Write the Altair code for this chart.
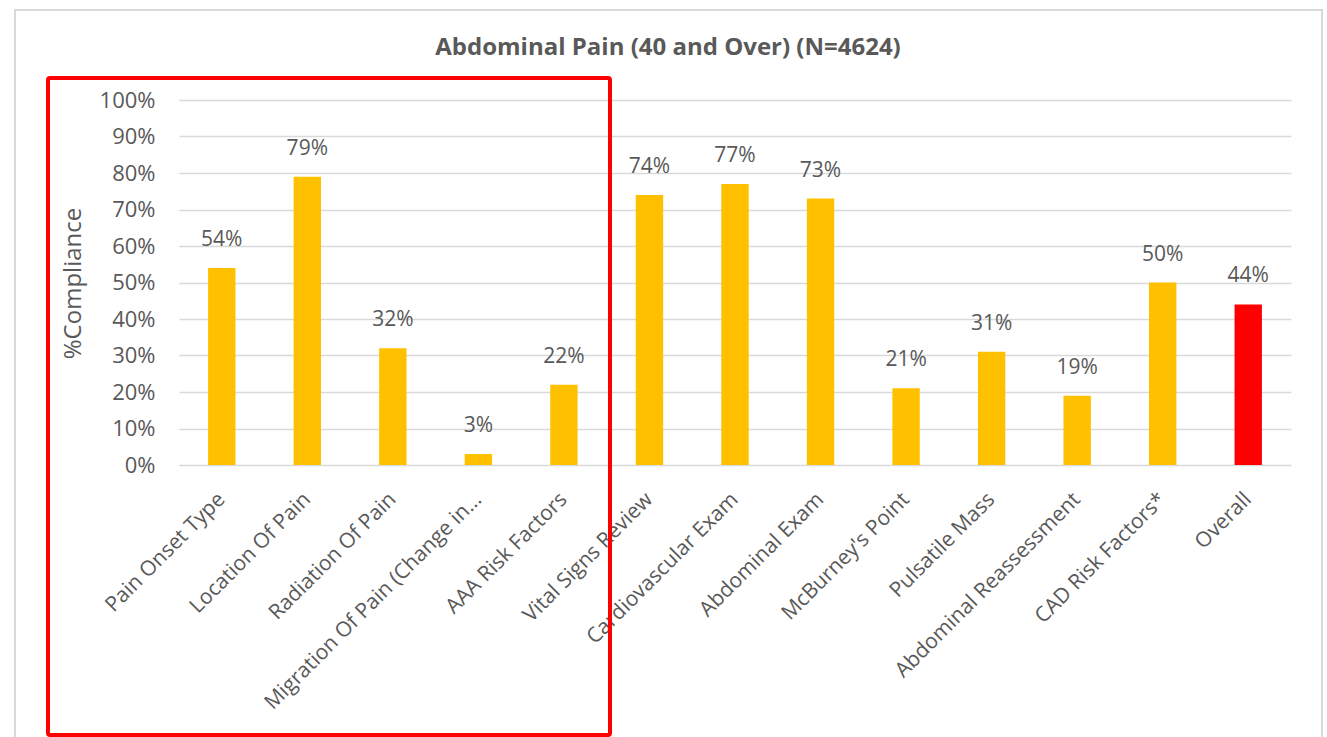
import altair as alt
import pandas as pd

categories = [
    "Pain Onset Type", "Location Of Pain", "Radiation Of Pain",
    "Migration Of Pain (Change in...", "AAA Risk Factors", "Vital Signs Review",
    "Cardiovascular Exam", "Abdominal Exam", "McBurney's Point",
    "Pulsatile Mass", "Abdominal Reassessment", "CAD Risk Factors*", "Overall",
]
values = [54, 79, 32, 3, 22, 74, 77, 73, 21, 31, 19, 50, 44]
kinds = ["item"] * 12 + ["overall"]
tick_values = [0, 0.1, 0.2, 0.3, 0.4, 0.5, 0.6, 0.7, 0.8, 0.9, 1.0]
title_text = "Abdominal Pain (40 and Over) (N=4624)"

df = pd.DataFrame({"cat": categories, "val": [v / 100 for v in values], "kind": kinds,
                   "label": [f"{v}%" for v in values]})
one = pd.DataFrame({"a": [0]})

FONT = "Open Sans"
GRAY = "#595959"

x_enc = alt.X("cat:N", sort=categories, title=None,
              scale=alt.Scale(paddingInner=0.68, paddingOuter=0.34),
              axis=alt.Axis(labelAngle=-45, labelAlign="right", labelBaseline="middle",
                            labelPadding=31, labelOffset=0, ticks=False, domain=False,
                            labelFont=FONT, labelFontSize=21, labelColor=GRAY,
                            labelLimit=500, labelOverlap=False, grid=False))
y_enc = alt.Y("val:Q", title="%Compliance",
              scale=alt.Scale(domain=[0, 1], nice=False),
              axis=alt.Axis(format=".0%", values=tick_values,
                            ticks=False, domain=False, labelPadding=24,
                            labelOverlap=False,
                            labelFont=FONT, labelFontSize=22, labelColor=GRAY,
                            gridColor="#d9d9d9", gridWidth=1.5,
                            titleFont=FONT, titleFontSize=24, titleColor=GRAY,
                            titleFontWeight="normal", titleX=-106, titleY=183,
                            titleAngle=-90, titleAlign="center", titleBaseline="middle"))

bars = alt.Chart(df).mark_bar().encode(
    x=x_enc, y=y_enc,
    color=alt.Color("kind:N", scale=alt.Scale(domain=["item", "overall"],
                                              range=["#FFC000", "#FF0000"]), legend=None),
)

labels = alt.Chart(df).mark_text(font=FONT, fontSize=21, color=GRAY, dy=-28,
                                 baseline="middle").encode(
    x=x_enc, y=y_enc, text="label:N")

title = alt.Chart(one).mark_text(font=FONT, fontSize=24, fontWeight="bold", color=GRAY,
                                 baseline="middle", align="center").encode(
    x=alt.value(489), y=alt.value(-52), text=alt.value(title_text))

border = alt.Chart(one).mark_rect(fillOpacity=0, stroke="#d9d9d9", strokeWidth=2).encode(
    x=alt.value(-164), x2=alt.value(1143), y=alt.value(-90), y2=alt.value(680))

redbox = alt.Chart(one).mark_rect(fillOpacity=0, stroke="#FF0000", strokeWidth=4,
                                  cornerRadius=2).encode(
    x=alt.value(-131), x2=alt.value(431), y=alt.value(-22), y2=alt.value(635))

chart = alt.layer(border, bars, labels, title, redbox).properties(
    width=1112, height=365,
    autosize=alt.AutoSizeParams(type="none"),
    padding={"left": 179, "top": 100, "right": 36, "bottom": 272},
    background="white",
).configure_view(stroke=None)

chart.save("out.html", embed_options={"renderer": "svg", "actions": False})
